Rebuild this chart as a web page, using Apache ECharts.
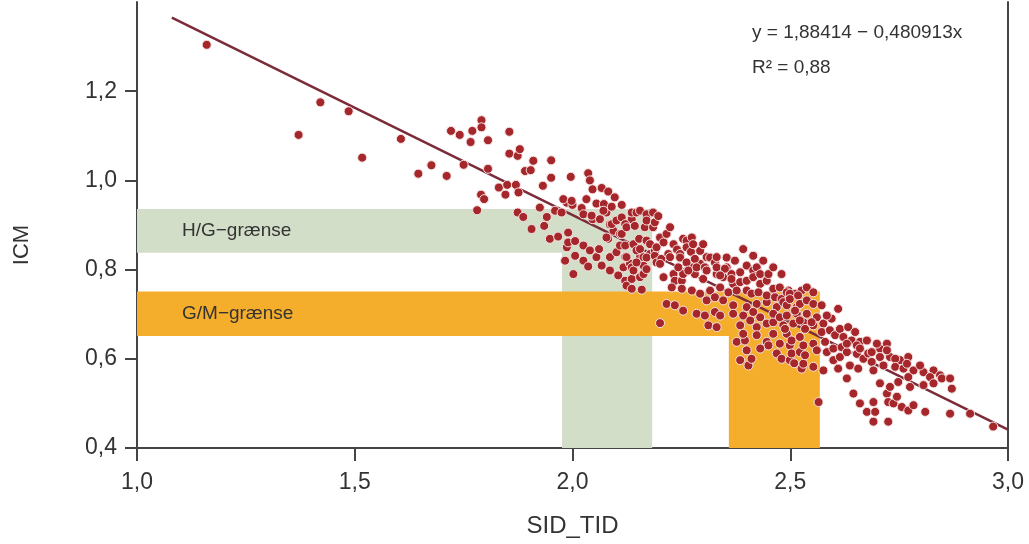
<!DOCTYPE html>
<html>
<head>
<meta charset="utf-8">
<script src="https://cdn.jsdelivr.net/npm/echarts@6/dist/echarts.min.js"></script>
<style>
html, body { margin: 0; padding: 0; background: #fff; }
#chart { width: 1029px; height: 544px; }
</style>
</head>
<body>
<div id="chart"></div>
<script>
// regression printed on the figure
const FIT_INTERCEPT = 1.88414;
const FIT_SLOPE = -0.480913;
const FIT_X = [1.08, 3.0];
const FIT_TEXT = ["y = 1,88414 \u2212 0,480913x", "R\u00b2 = 0,88"];

const X_AXIS = { min: 1.0, max: 3.0, step: 0.5, name: "SID_TID" };
const Y_AXIS = { min: 0.4, max: 1.4, step: 0.2, name: "ICM" };

// threshold bands: [x1, y1, x2, y2]
const BAND_NAMES = ["H/G\u2212grænse", "G/M\u2212grænse"];
const HG_BAND = [1.0, 0.936, 2.183, 0.838];
const HG_STRIP = [1.976, 0.838, 2.183, 0.4];
const GM_BAND = [1.0, 0.751, 2.568, 0.651];
const GM_STRIP = [2.359, 0.651, 2.568, 0.4];

// [SID_TID, ICM]
const points = [
    [1.160, 1.304], [1.371, 1.102], [1.421, 1.175], [1.486, 1.155], [1.517, 1.051],
    [1.606, 1.093], [1.646, 1.015], [1.676, 1.034], [1.711, 1.010], [1.721, 1.111],
    [1.741, 1.102], [1.750, 1.035], [1.766, 1.086], [1.770, 1.111], [1.781, 0.933],
    [1.791, 1.135], [1.791, 1.119], [1.790, 0.968], [1.797, 0.958], [1.806, 1.090],
    [1.806, 1.026], [1.831, 0.984], [1.846, 0.968], [1.850, 0.990], [1.855, 1.109],
    [1.855, 1.060], [1.870, 0.990], [1.874, 1.055], [1.874, 0.928], [1.876, 0.973],
    [1.879, 1.070], [1.887, 0.918], [1.891, 1.021],
    [1.904, 1.023], [1.906, 0.891], [1.910, 1.044], [1.925, 0.939], [1.932, 0.988],
    [1.935, 0.898], [1.941, 0.918], [1.948, 0.869], [1.951, 1.045], [1.951, 1.006],
    [1.960, 0.932], [1.967, 0.874], [1.975, 0.928], [1.983, 0.820], [1.987, 0.950],
    [1.987, 0.850], [1.990, 0.883], [1.990, 0.861], [1.996, 1.008], [2.000, 0.945],
    [1.979, 0.958], [1.998, 0.954],
    [2.002, 0.790], [2.006, 0.831], [2.006, 0.864], [2.021, 0.938], [2.025, 0.924],
    [2.025, 0.854], [2.025, 0.820], [2.036, 1.016], [2.036, 0.807], [2.040, 1.000],
    [2.040, 0.843], [2.046, 0.980], [2.046, 0.913], [2.055, 0.948], [2.055, 0.828],
    [2.061, 0.846], [2.067, 0.983], [2.067, 0.809], [2.072, 0.947], [2.078, 0.928],
    [2.082, 0.975], [2.082, 0.869], [2.086, 0.901], [2.086, 0.828], [2.086, 0.798],
    [2.090, 0.941], [2.094, 0.887], [2.101, 0.839], [2.105, 0.787], [2.113, 0.945],
    [2.032, 0.958], [2.044, 0.921], [2.063, 0.913], [2.071, 0.932], [2.097, 0.962],
    [2.078, 0.872], [2.090, 0.902], [2.101, 0.910], [2.109, 0.880], [2.109, 0.854],
    [2.113, 0.917], [2.113, 0.880], [2.117, 0.805], [2.121, 0.854], [2.121, 0.828],
    [2.121, 0.775], [2.124, 0.764], [2.132, 0.813], [2.136, 0.913], [2.136, 0.779],
    [2.121, 0.902], [2.124, 0.895], [2.136, 0.928], [2.143, 0.898], [2.124, 0.828],
    [2.136, 0.805], [2.155, 0.831], [2.163, 0.809], [2.178, 0.835], [2.189, 0.842],
    [2.136, 0.757], [2.140, 0.857], [2.140, 0.798], [2.147, 0.928], [2.147, 0.843],
    [2.147, 0.816], [2.153, 0.869], [2.155, 0.932], [2.155, 0.846], [2.155, 0.783],
    [2.159, 0.755], [2.163, 0.828], [2.163, 0.790], [2.166, 0.895], [2.170, 0.924],
    [2.170, 0.910], [2.170, 0.865], [2.170, 0.827], [2.170, 0.801], [2.178, 0.857],
    [2.185, 0.928], [2.185, 0.895], [2.189, 0.906], [2.189, 0.831], [2.193, 0.850],
    [2.193, 0.816], [2.197, 0.920],
    [2.201, 0.872], [2.201, 0.680], [2.204, 0.824], [2.209, 0.861], [2.209, 0.783],
    [2.216, 0.880], [2.216, 0.723], [2.220, 0.835], [2.224, 0.895], [2.224, 0.828],
    [2.232, 0.857], [2.232, 0.790], [2.235, 0.775], [2.235, 0.720], [2.240, 0.845],
    [2.247, 0.835], [2.251, 0.775], [2.254, 0.869], [2.254, 0.790], [2.254, 0.708],
    [2.262, 0.865], [2.262, 0.850], [2.272, 0.840], [2.274, 0.872], [2.277, 0.857],
    [2.277, 0.805], [2.281, 0.790], [2.285, 0.701], [2.293, 0.842], [2.293, 0.813],
    [2.201, 0.813], [2.247, 0.827], [2.262, 0.816], [2.281, 0.824], [2.243, 0.805],
    [2.266, 0.798], [2.285, 0.805], [2.228, 0.760], [2.251, 0.757], [2.274, 0.753],
    [2.293, 0.746], [2.308, 0.731],
    [2.300, 0.857], [2.300, 0.779], [2.304, 0.805], [2.304, 0.697], [2.308, 0.828],
    [2.308, 0.798], [2.312, 0.675], [2.316, 0.827], [2.316, 0.753], [2.327, 0.816],
    [2.327, 0.738], [2.327, 0.705], [2.331, 0.828], [2.331, 0.790], [2.331, 0.671],
    [2.339, 0.760], [2.339, 0.697], [2.346, 0.783], [2.346, 0.731], [2.354, 0.827],
    [2.354, 0.805], [2.358, 0.749], [2.365, 0.790], [2.369, 0.768], [2.369, 0.720],
    [2.373, 0.820], [2.377, 0.638], [2.385, 0.794], [2.385, 0.675], [2.385, 0.597],
    [2.392, 0.846], [2.396, 0.641],
    [2.331, 0.805], [2.350, 0.802], [2.339, 0.787], [2.365, 0.779], [2.385, 0.772],
    [2.377, 0.753], [2.369, 0.701], [2.392, 0.697], [2.392, 0.656],
    [2.400, 0.809], [2.400, 0.775], [2.400, 0.716], [2.404, 0.585], [2.408, 0.686],
    [2.415, 0.831], [2.415, 0.798], [2.415, 0.783], [2.423, 0.805], [2.423, 0.723],
    [2.423, 0.671], [2.431, 0.790], [2.431, 0.768], [2.438, 0.820], [2.446, 0.775],
    [2.446, 0.727], [2.446, 0.679], [2.446, 0.638], [2.450, 0.790], [2.450, 0.630],
    [2.461, 0.805], [2.461, 0.757], [2.461, 0.682], [2.469, 0.716], [2.476, 0.760],
    [2.400, 0.753], [2.411, 0.746], [2.427, 0.749], [2.446, 0.742], [2.465, 0.738],
    [2.480, 0.734], [2.496, 0.753], [2.511, 0.746], [2.526, 0.753], [2.538, 0.760],
    [2.553, 0.749], [2.415, 0.705], [2.431, 0.693], [2.461, 0.701], [2.476, 0.693],
    [2.492, 0.697], [2.515, 0.701], [2.423, 0.653], [2.461, 0.656], [2.492, 0.656],
    [2.522, 0.649], [2.400, 0.619], [2.431, 0.623], [2.469, 0.612], [2.411, 0.600],
    [2.476, 0.634], [2.480, 0.790], [2.480, 0.600], [2.484, 0.727], [2.484, 0.675],
    [2.488, 0.667], [2.492, 0.749], [2.492, 0.720], [2.499, 0.746], [2.499, 0.734],
    [2.499, 0.630], [2.499, 0.597], [2.503, 0.641], [2.503, 0.612], [2.507, 0.679],
    [2.509, 0.590], [2.515, 0.716], [2.518, 0.742], [2.522, 0.723], [2.522, 0.615],
    [2.526, 0.578], [2.530, 0.682], [2.530, 0.630], [2.530, 0.589], [2.534, 0.667],
    [2.534, 0.608], [2.538, 0.731], [2.553, 0.723], [2.553, 0.675], [2.553, 0.634],
    [2.553, 0.582], [2.561, 0.619], [2.565, 0.503], [2.572, 0.720], [2.576, 0.679],
    [2.576, 0.574], [2.580, 0.638], [2.584, 0.615], [2.595, 0.690], [2.599, 0.623],
    [2.599, 0.597],
    [2.511, 0.708], [2.538, 0.701], [2.561, 0.693], [2.584, 0.697], [2.522, 0.686],
    [2.549, 0.682], [2.572, 0.660], [2.591, 0.664],
    [2.603, 0.653], [2.610, 0.712], [2.610, 0.578], [2.614, 0.667], [2.614, 0.604],
    [2.618, 0.626], [2.622, 0.649], [2.630, 0.615], [2.630, 0.556], [2.633, 0.671],
    [2.637, 0.585], [2.641, 0.641], [2.645, 0.522], [2.649, 0.660], [2.653, 0.611],
    [2.656, 0.578], [2.660, 0.638], [2.660, 0.500], [2.668, 0.600], [2.676, 0.481],
    [2.630, 0.634], [2.653, 0.630], [2.676, 0.641], [2.660, 0.623], [2.679, 0.612],
    [2.706, 0.623], [2.722, 0.634], [2.729, 0.604], [2.752, 0.597], [2.771, 0.604],
    [2.783, 0.574], [2.806, 0.570], [2.829, 0.574], [2.844, 0.563],
    [2.687, 0.615], [2.687, 0.593], [2.691, 0.574], [2.691, 0.503], [2.691, 0.459],
    [2.695, 0.481], [2.699, 0.634], [2.706, 0.604], [2.706, 0.545], [2.714, 0.585],
    [2.722, 0.619], [2.722, 0.522], [2.725, 0.503], [2.725, 0.459], [2.729, 0.537],
    [2.737, 0.500], [2.741, 0.600], [2.741, 0.582], [2.745, 0.515], [2.748, 0.548],
    [2.756, 0.492], [2.760, 0.578], [2.768, 0.589], [2.771, 0.559], [2.771, 0.484],
    [2.775, 0.537], [2.783, 0.496], [2.798, 0.585], [2.806, 0.541], [2.810, 0.481],
    [2.821, 0.559], [2.829, 0.545], [2.848, 0.556], [2.867, 0.556], [2.867, 0.477],
    [2.871, 0.533], [2.913, 0.477], [2.966, 0.448],
];

const FONT = "'Liberation Sans', Arial, sans-serif";
const TEXT_COLOR = "#333333";
const AXIS_COLOR = "#444444";
const GREEN = "#d3dec8";
const ORANGE = "#f5ad2c";

const comma = (v) => v.toFixed(1).replace(".", ",");

function band(rect, color, label) {
    return [
        {
            name: label || "",
            coord: [rect[0], rect[1]],
            itemStyle: { color: color },
            label: label
                ? { show: true, position: "insideLeft", distance: 45, color: TEXT_COLOR, fontSize: 19, fontFamily: FONT }
                : { show: false },
        },
        { coord: [rect[2], rect[3]] },
    ];
}

const chart = echarts.init(document.getElementById("chart"), null, { renderer: "canvas" });

chart.setOption({
    animation: false,
    backgroundColor: "#ffffff",
    grid: { left: 137, right: 21, top: 2, bottom: 96 },
    xAxis: {
        type: "value",
        min: X_AXIS.min,
        max: X_AXIS.max,
        interval: X_AXIS.step,
        name: X_AXIS.name,
        nameLocation: "middle",
        nameGap: 66,
        nameTextStyle: { color: TEXT_COLOR, fontSize: 24, fontFamily: FONT },
        axisLine: { lineStyle: { color: AXIS_COLOR, width: 2 } },
        axisTick: { length: 13, lineStyle: { color: AXIS_COLOR, width: 2 } },
        axisLabel: { margin: 23, color: TEXT_COLOR, fontSize: 23, fontFamily: FONT, formatter: comma },
        splitLine: { show: false },
    },
    yAxis: [
        {
            type: "value",
            min: Y_AXIS.min,
            max: Y_AXIS.max,
            interval: Y_AXIS.step,
            axisLine: { show: true, lineStyle: { color: AXIS_COLOR, width: 2 } },
            axisTick: { show: true, length: 12, lineStyle: { color: AXIS_COLOR, width: 2 } },
            axisLabel: { margin: 20, color: TEXT_COLOR, fontSize: 23, fontFamily: FONT, formatter: comma, showMaxLabel: false },
            splitLine: { show: false },
        },
        {
            type: "value",
            position: "right",
            min: Y_AXIS.min,
            max: Y_AXIS.max,
            axisLine: { show: true, lineStyle: { color: AXIS_COLOR, width: 2 } },
            axisTick: { show: false },
            axisLabel: { show: false },
            splitLine: { show: false },
        },
    ],
    graphic: [
        {
            type: "text",
            x: 22,
            y: 245,
            rotation: Math.PI / 2,
            style: { text: Y_AXIS.name, fill: TEXT_COLOR, font: "22px " + FONT, align: "center", verticalAlign: "middle" },
        },
        {
            type: "text",
            x: 752,
            y: 33,
            style: { text: FIT_TEXT[0], fill: TEXT_COLOR, font: "19px " + FONT, verticalAlign: "middle" },
        },
        {
            type: "text",
            x: 752,
            y: 68,
            style: { text: FIT_TEXT[1], fill: TEXT_COLOR, font: "19px " + FONT, verticalAlign: "middle" },
        },
    ],
    series: [
        {
            name: "bands",
            type: "scatter",
            data: [],
            silent: true,
            z: 1,
            markArea: {
                silent: true,
                data: [
                    band(HG_BAND, GREEN, BAND_NAMES[0]),
                    band(HG_STRIP, GREEN),
                    band(GM_BAND, ORANGE, BAND_NAMES[1]),
                    band(GM_STRIP, ORANGE),
                ],
            },
        },
        {
            name: "fit",
            type: "line",
            z: 2,
            symbol: "none",
            data: FIT_X.map((x) => [x, FIT_INTERCEPT + FIT_SLOPE * x]),
            lineStyle: { color: "#7b2b3a", width: 2.5 },
        },
        {
            name: "ICM",
            type: "scatter",
            z: 3,
            symbolSize: 9,
            data: points,
            itemStyle: { color: "#a5262b", borderColor: "#f6e4e2", borderWidth: 1, opacity: 1 },
        },
    ],
});
</script>
</body>
</html>
